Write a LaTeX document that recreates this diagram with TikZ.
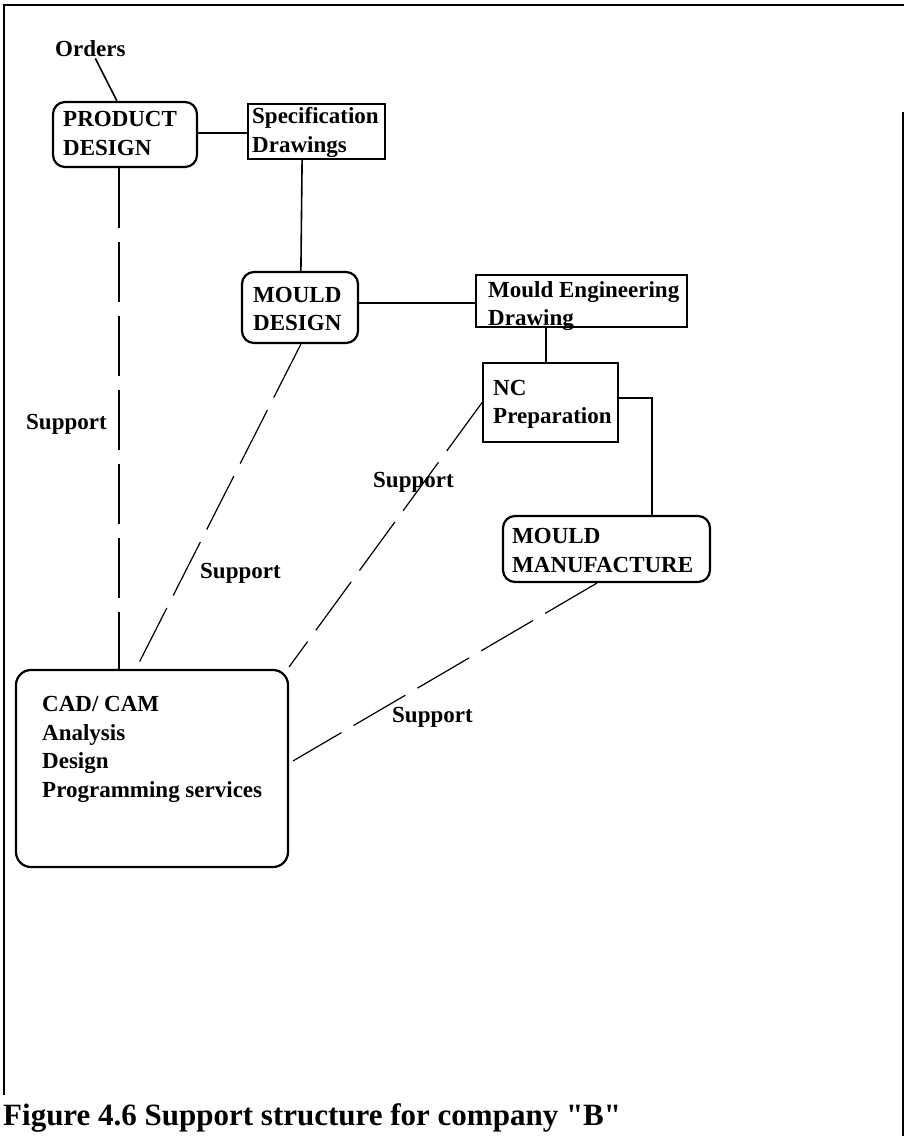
\documentclass[tikz,border=0pt]{standalone}
\usepackage{fontspec}
\setmainfont{Liberation Serif}
% same face without the TeX quote mapping, for straight double quotes
\newfontfamily\plainserif{Liberation Serif}
\usetikzlibrary{calc}
\begin{document}
\begin{tikzpicture}[x=1pt,y=-1pt,
  txt/.style={anchor=base west,inner sep=0pt,font=\bfseries\fontsize{23}{29}\selectfont},
  rbox/.style={draw,line width=2.2pt,rounded corners=12pt,inner sep=0pt},
  sbox/.style={draw,line width=1.8pt,inner sep=0pt},
  link/.style={line width=1.6pt},
  support/.style={line width=1.2pt,dash pattern=on 60pt off 14pt}]
\useasboundingbox (0,0) rectangle (904,1136);

% frame
\draw[line width=2pt] (4,1095) -- (4,5) -- (904,5);
\draw[line width=1.6pt] (903,112) -- (903,1136);

% boxes (centre, width, height)
\node[rbox,minimum width=144,minimum height=65] (pd) at (125,134.5) {};
\node[sbox,minimum width=137,minimum height=55] (spec) at (316.5,131.5) {};
\node[rbox,minimum width=116,minimum height=71] (md) at (300,307.5) {};
\node[sbox,minimum width=211,minimum height=52] (me) at (581.5,301) {};
\node[sbox,minimum width=135,minimum height=79] (nc) at (550.5,402.5) {};
\node[rbox,minimum width=207,minimum height=66] (mm) at (606.5,549) {};
\node[rbox,rounded corners=15pt,minimum width=272,minimum height=197] (cad) at (152,768.5) {};

% texts
\node[txt] (orders) at (55,56) {Orders};
\node[txt] (pd1) at (63,126) {PRODUCT};
\node[txt] (pd2) at (63,155) {DESIGN};
\node[txt] (spec1) at (252,123) {Specification};
\node[txt] (spec2) at (252,152) {Drawings};
\node[txt] (md1) at (253,302) {MOULD};
\node[txt] (md2) at (253,330) {DESIGN};
\node[txt] (me1) at (488,297) {Mould Engineering};
\node[txt] (me2) at (488,325) {Drawing};
\node[txt] (nc1) at (493,395) {NC};
\node[txt] (nc2) at (493,423) {Preparation};
\node[txt] (mm1) at (512,543) {MOULD};
\node[txt] (mm2) at (512,572) {MANUFACTURE};
\node[txt] (cad1) at (42,711) {CAD/ CAM};
\node[txt] (cad2) at (42,740) {Analysis};
\node[txt] (cad3) at (42,768) {Design};
\node[txt] (cad4) at (42,797) {Programming services};

% support labels
\node[txt] (s1) at (26,429) {Support};
\node[txt] (s2) at (200,578) {Support};
\node[txt] (s3) at (373,487) {Support};
\node[txt] (s4) at (392,722) {Support};

% caption
\node[anchor=base west,inner sep=0pt,font=\plainserif\bfseries\fontsize{31}{36}\selectfont] (cap) at (3,1125) {Figure 4.6 Support structure for company "B"};

% solid connectors
\draw[link] ($(orders.south)+(5,2)$) -- ($(pd.north west)+(65,0)$);
\draw[link] (pd.east |- 0,133) -- (spec.west |- 0,133);
\draw[link] ($(spec.south west)+(55,0)$) -- ($(md.north west)+(60,0)$);
\draw[link] (md.east |- 0,303) -- (me.west |- 0,303);
\draw[link] ($(me.south west)+(71,0)$) -- ($(nc.north west)+(64,0)$);
\draw[link] (nc.east |- 0,398) -| ($(mm.north west)+(150,0)$);

% dashed support connectors
\draw[support] ($(pd.south west)+(67,0)$) -- ($(cad.north west)+(104,0)$);
\draw[support] ($(md.south west)+(60,0)$) -- ($(cad.north west)+(121,0)$);
\draw[support] (nc.west) -- ($(cad.north east)+(0,-2)$);
\draw[support] ($(mm.south west)+(95,0)$) -- ($(cad.north east)+(4,92)$);
\end{tikzpicture}
\end{document}
